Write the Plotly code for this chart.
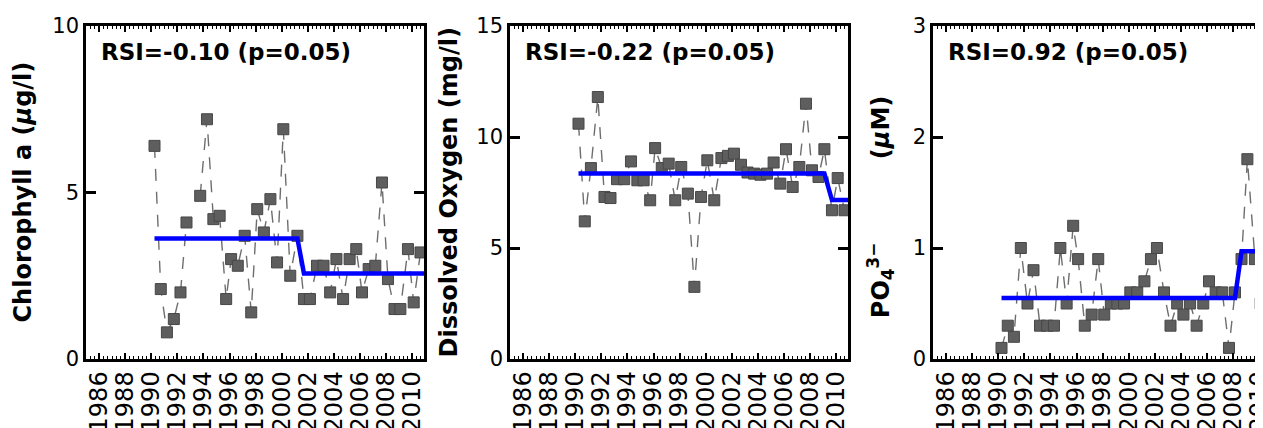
import plotly.graph_objects as go

# ---- data ----
times = [1990.25, 1990.73, 1991.2, 1991.73, 1992.24, 1992.7, 1993.2, 1993.75, 1994.27, 1994.76,
         1995.24, 1995.74, 1996.12, 1996.63, 1997.16, 1997.66, 1998.12, 1998.63, 1999.13, 1999.64,
         2000.12, 2000.65, 2001.2, 2001.7, 2002.16, 2002.7, 2003.2, 2003.71, 2004.19, 2004.7,
         2005.2, 2005.71, 2006.15, 2006.66, 2007.17, 2007.68, 2008.14, 2008.64, 2009.09, 2009.67,
         2010.11, 2010.63]

chlorophyll = [6.4, 2.1, 0.8, 1.2, 2.0, 4.1, None, 4.9, 7.2, 4.2, 4.3, 1.8, 3.0, 2.8, 3.7, 1.4,
               4.5, 3.8, 4.8, 2.9, 6.9, 2.5, 3.7, 1.8, 1.8, 2.8, 2.8, 2.0, 3.0, 1.8, 3.0, 3.3,
               2.0, 2.7, 2.8, 5.3, 2.4, 1.5, 1.5, 3.3, 1.7, 3.2]
oxygen = [10.6, 6.2, 8.6, 11.8, 7.3, 7.25, 8.1, 8.1, 8.9, 8.05, 8.05, 7.15, 9.5, 8.6, 8.8, 7.15,
          8.65, 7.45, 3.25, 7.3, 8.95, 7.15, 9.05, 9.15, 9.25, 8.75, 8.4, 8.35, 8.3, 8.35, 8.85,
          7.9, 9.45, 7.75, 8.65, 11.5, 8.5, 8.2, 9.45, 6.7, 8.15, 6.7]
phosphate = [0.1, 0.3, 0.2, 1.0, 0.5, 0.8, 0.3, 0.3, 0.3, 1.0, 0.5, 1.2, 0.9, 0.3, 0.4, 0.9, 0.4,
             0.5, 0.5, 0.5, 0.6, 0.6, 0.7, 0.9, 1.0, 0.6, 0.3, 0.5, 0.4, 0.5, 0.3, 0.5, 0.7, 0.6,
             0.6, 0.1, 0.6, 0.9, 1.8, 0.9, 0.5, 2.0]

# regime shift: index of first point of the new regime, mean before, mean after
shift_index = [23, 39, 37]
regime_means = [[3.62, 2.57], [8.36, 7.16], [0.55, 0.97]]
rsi_labels = ["RSI=-0.10 (p=0.05)", "RSI=-0.22 (p=0.05)", "RSI=0.92 (p=0.05)"]
y_titles = ["<b>Chlorophyll a (<i>μ</i>g/l)</b>",
            "<b>Dissolved Oxygen (mg/l)</b>",
            "<b>PO<sub>4</sub><sup>3−</sup>" + "\u00a0" * 9 + " (<i>μ</i>M)</b>"]
y_max = [10, 15, 3]
y_dtick = [5, 5, 1]
year_ticks = list(range(1986, 2011, 2))
x_end = 2011.0

series = [chlorophyll, oxygen, phosphate]

OFF = 8                      # page body margin
W, H = 1263 - OFF, 428 - OFF
top, bottom = 26 - OFF, 359 - OFF
domains_px = [(86, 424), (510, 848), (933, 1263)]
x_ranges = [[1985, 2010.9], [1985, 2010.9], [1985, 1985 + 25.9 * 330 / 338]]
title_x_px = [22, 448, 880]
title_y_frac = [0.5, 0.5, 0.456]

FONT = "DejaVu Sans"
fig = go.Figure()
layout = {}
annotations = []
for i, vals in enumerate(series):
    n = "" if i == 0 else str(i + 1)
    xr, yr = "x" + n, "y" + n
    fig.add_trace(go.Scatter(
        x=times, y=vals, xaxis=xr, yaxis=yr, mode="lines+markers",
        line=dict(color="#6e6e6e", width=1.4, dash="12px,11px"),
        marker=dict(symbol="square", size=11, color="#5e5e5e",
                    line=dict(color="#474747", width=1)),
        connectgaps=False, showlegend=False))
    k = shift_index[i]
    m1, m2 = regime_means[i]
    fig.add_trace(go.Scatter(
        x=[times[0], times[k - 1], times[k], x_end], y=[m1, m1, m2, m2],
        xaxis=xr, yaxis=yr, mode="lines",
        line=dict(color="#0000ff", width=4.5), showlegend=False))

    d0, d1 = domains_px[i]
    layout["xaxis" + n] = dict(
        domain=[(d0 - OFF) / W, min(1.0, (d1 - OFF) / W)], anchor=yr, range=x_ranges[i],
        tickmode="array", tickvals=year_ticks, ticktext=[str(v) for v in year_ticks],
        tickangle=-90, ticks="inside", ticklen=6, tickwidth=1.5, tickcolor="black",
        ticklabeloverflow="allow", automargin=False,
        minor=dict(dtick=1 / 3, tick0=1985, ticks="inside", ticklen=3, tickwidth=1,
                   tickcolor="black"),
        showline=True, linecolor="black", linewidth=2.5, mirror="allticks",
        showgrid=False, zeroline=False,
        tickfont=dict(family=FONT, size=24, color="black"))
    layout["yaxis" + n] = dict(
        domain=[0, 1], anchor=xr, range=[0, y_max[i]], dtick=y_dtick[i],
        ticks="inside", ticklen=10, tickwidth=2.5, tickcolor="black",
        showline=True, linecolor="black", linewidth=2.5, automargin=False,
        mirror=("ticks" if i < 2 else False),
        showgrid=False, zeroline=False,
        tickfont=dict(family=FONT, size=21, color="black"))
    annotations.append(dict(
        text="<b>" + rsi_labels[i] + "</b>", xref=xr + " domain", yref=yr + " domain",
        x=13 / 338, y=(359 - 52) / (359 - 26), xanchor="left", yanchor="middle",
        showarrow=False, font=dict(family=FONT, size=23, color="black")))
    annotations.append(dict(
        text=y_titles[i], xref="paper", yref=yr + " domain",
        x=(title_x_px[i] - OFF) / W, y=title_y_frac[i], xanchor="center", yanchor="middle",
        textangle=-90, showarrow=False, font=dict(family=FONT, size=24, color="black")))

fig.update_layout(
    width=W, height=H, margin=dict(l=0, r=0, t=top, b=H - bottom, autoexpand=False),
    paper_bgcolor="white", plot_bgcolor="white",
    annotations=annotations, **layout)

fig.write_html("out.html")
